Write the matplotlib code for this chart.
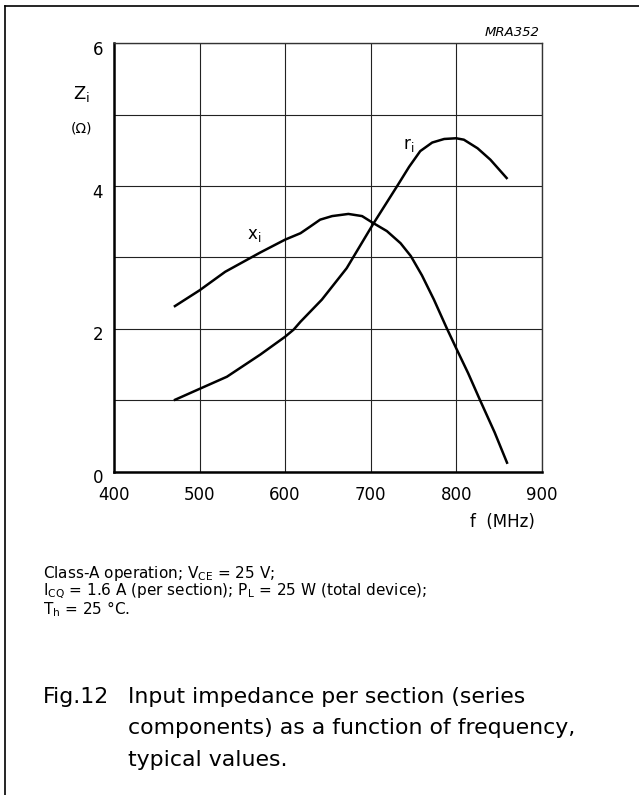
import matplotlib
matplotlib.use("Agg")
import matplotlib.pyplot as plt
import matplotlib.transforms as mtransforms
from matplotlib.lines import Line2D

# frequency (MHz) and series components (ohm)
f_xi = [470, 500, 530, 571, 600, 618, 629, 641, 655, 674, 690, 702, 719, 735, 747,
        760, 774, 789, 800, 814, 828, 845, 860]
xi = [2.31, 2.54, 2.80, 3.07, 3.25, 3.34, 3.43, 3.53, 3.58, 3.61, 3.58, 3.49, 3.37, 3.20, 3.02,
      2.75, 2.41, 2.01, 1.73, 1.38, 1.00, 0.55, 0.11]

f_ri = [470, 500, 532, 571, 600, 610, 618, 643, 672, 703, 731, 745, 758, 772, 786,
        800, 809, 825, 840, 860]
ri = [1.00, 1.16, 1.33, 1.64, 1.89, 1.99, 2.10, 2.41, 2.85, 3.47, 4.00, 4.27, 4.49, 4.61, 4.66,
      4.67, 4.65, 4.53, 4.37, 4.10]

x_ticks = [400, 500, 600, 700, 800, 900]
y_ticks = [0, 2, 4, 6]
y_minor = [1, 3, 5]

conditions = [
    r"Class-A operation; V$_{\rm CE}$ = 25 V;",
    r"I$_{\rm CQ}$ = 1.6 A (per section); P$_{\rm L}$ = 25 W (total device);",
    r"T$_{\rm h}$ = 25 °C.",
]
caption_tag = "Fig.12"
caption = ["Input impedance per section (series",
           "components) as a function of frequency,",
           "typical values."]

plt.rcParams["font.family"] = "DejaVu Sans"
plt.rcParams["mathtext.fontset"] = "dejavusans"

W, H = 639, 795
fig = plt.figure(figsize=(W / 100, H / 100), dpi=100)
ax = fig.add_axes([114 / W, 1 - 471.7 / H, (541.7 - 114) / W, (471.7 - 43.3) / H])

ax.plot(f_xi, xi, color="black", lw=1.8, solid_capstyle="butt", solid_joinstyle="round")
ax.plot(f_ri, ri, color="black", lw=1.8, solid_capstyle="butt", solid_joinstyle="round")

ax.set_xlim(400, 900)
ax.set_ylim(0, 6)
ax.set_xticks(x_ticks)
ax.set_yticks(y_ticks)
ax.set_yticks(y_minor, minor=True)
ax.grid(which="both", color="#222222", lw=0.8)
ax.set_axisbelow(True)
ax.tick_params(which="both", length=0)
ax.tick_params(axis="x", labelsize=12, pad=10)
ax.tick_params(axis="y", labelsize=12, pad=8)
# y labels sit a little below their grid lines in the original
shift = mtransforms.ScaledTranslation(0, -0.045, fig.dpi_scale_trans)
for lab in ax.get_yticklabels():
    lab.set_transform(lab.get_transform() + shift)

for side in ["left", "bottom"]:
    ax.spines[side].set_linewidth(1.8)
for side in ["top", "right"]:
    ax.spines[side].set_linewidth(1.0)
    ax.spines[side].set_color("#333333")

ax.text(555, 3.31, r"x$_{\rm i}$", fontsize=12, ha="left", va="center")
ax.text(738, 4.58, r"r$_{\rm i}$", fontsize=12, ha="left", va="center")

fig.text(73 / W, 1 - 94 / H, r"Z$_{\rm i}$", fontsize=13, ha="left", va="center")
fig.text(82 / W, 1 - 128 / H, "(Ω)", fontsize=10, ha="center", va="center")
fig.text(535 / W, 1 - 522 / H, "f  (MHz)", fontsize=12, ha="right", va="center")
fig.text(540 / W, 1 - 32.5 / H, "MRA352", fontsize=9.5, style="italic",
         ha="right", va="center")

# operating conditions, one text block
fig.text(42.7 / W, 1 - 564 / H, "\n".join(conditions), fontsize=11,
         ha="left", va="top", linespacing=0.9)

fig.text(42.7 / W, 1 - 703 / H, caption_tag, fontsize=15.8, ha="left", va="baseline")
for i, line in enumerate(caption):
    fig.text(128.3 / W, 1 - (703 + 31.5 * i) / H, line, fontsize=15.8,
             ha="left", va="baseline")

# page frame (only top and left edges fall inside the picture)
fig.add_artist(Line2D([4.7 / W, 4.7 / W], [0, 1 - 6 / H], color="black", lw=1.2))
fig.add_artist(Line2D([4.7 / W, 1], [1 - 6 / H, 1 - 6 / H], color="black", lw=1.2))

fig.savefig("out.png", dpi=100)
